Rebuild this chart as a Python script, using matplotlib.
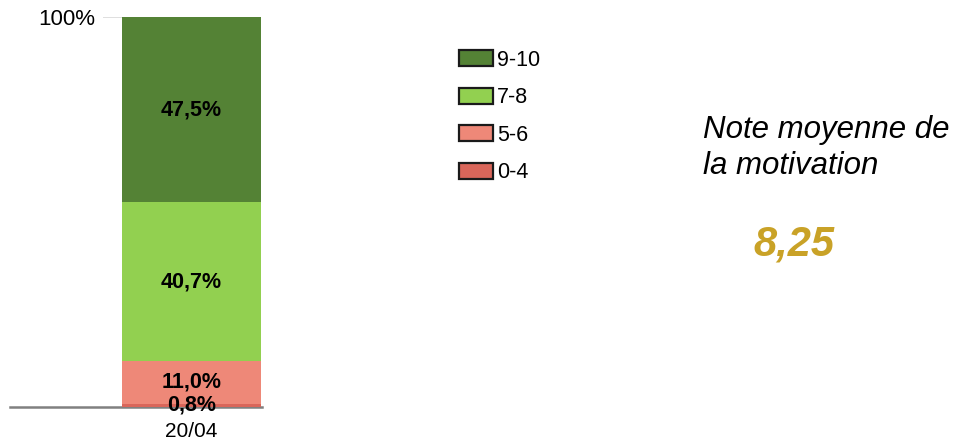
import matplotlib

matplotlib.use("Agg")
import matplotlib.pyplot as plt
from matplotlib.patches import Patch

plt.rcParams["font.family"] = ["Liberation Sans", "DejaVu Sans"]

# data, bottom to top
categories = ["0-4", "5-6", "7-8", "9-10"]
shares = [0.8, 11.0, 40.7, 47.5]
share_labels = ["0,8%", "11,0%", "40,7%", "47,5%"]
colors = ["#D9665A", "#EE8878", "#92D050", "#548235"]
period = "20/04"
mean_score = "8,25"

W, H = 955, 441
fig = plt.figure(figsize=(W / 100, H / 100), dpi=100)

# plot area in pixels: left 10, right 262, top 17, bottom 407
ax = fig.add_axes([10 / W, (H - 407) / H, 252 / W, 390 / H])
ax.set_ylim(0, 100)
ax.set_xlim(-1.306, 0.507)

bottom = 0
for val, lab, col in zip(shares, share_labels, colors):
    ax.bar(0, val, width=1.0, bottom=bottom, color=col, edgecolor="none", zorder=2)
    ax.text(0, bottom + val / 2, lab, ha="center", va="center",
            fontsize=15.5, fontweight="bold", color="black", zorder=3)
    bottom += val

for s in ["top", "right", "left"]:
    ax.spines[s].set_visible(False)
ax.spines["bottom"].set_color("#808080")
ax.spines["bottom"].set_linewidth(1.8)
ax.spines["bottom"].set_zorder(1)

ax.set_yticks([])
ax.set_xticks([0])
ax.set_xticklabels([period], fontsize=15)
ax.tick_params(axis="x", length=0, pad=11)

# 100% gridline stub and label
ax.hlines(100, -0.637, -0.5, color="#D9D9D9", lw=1.2, zorder=1)
ax.text(-0.69, 99.4, "100%", ha="right", va="center", fontsize=16)

handles = [Patch(facecolor=c, edgecolor="#1a1a1a", linewidth=1.6, label=l)
           for c, l in zip(colors[::-1], categories[::-1])]
fig.legend(handles=handles, loc="upper left", bbox_to_anchor=(450 / W, 1 - 41 / H),
           frameon=False, fontsize=15.5, handlelength=1.6, handleheight=0.75,
           handletextpad=0.2, labelspacing=0.77, borderaxespad=0)

fig.text(703 / W, 1 - 148 / H, "Note moyenne de\nla motivation", ha="left", va="center",
         fontsize=22.5, style="italic", linespacing=1.25)
fig.text(794 / W, 1 - 245 / H, mean_score, ha="center", va="center",
         fontsize=30, style="italic", fontweight="bold", color="#C9A227")

fig.savefig("out.png", dpi=100)
